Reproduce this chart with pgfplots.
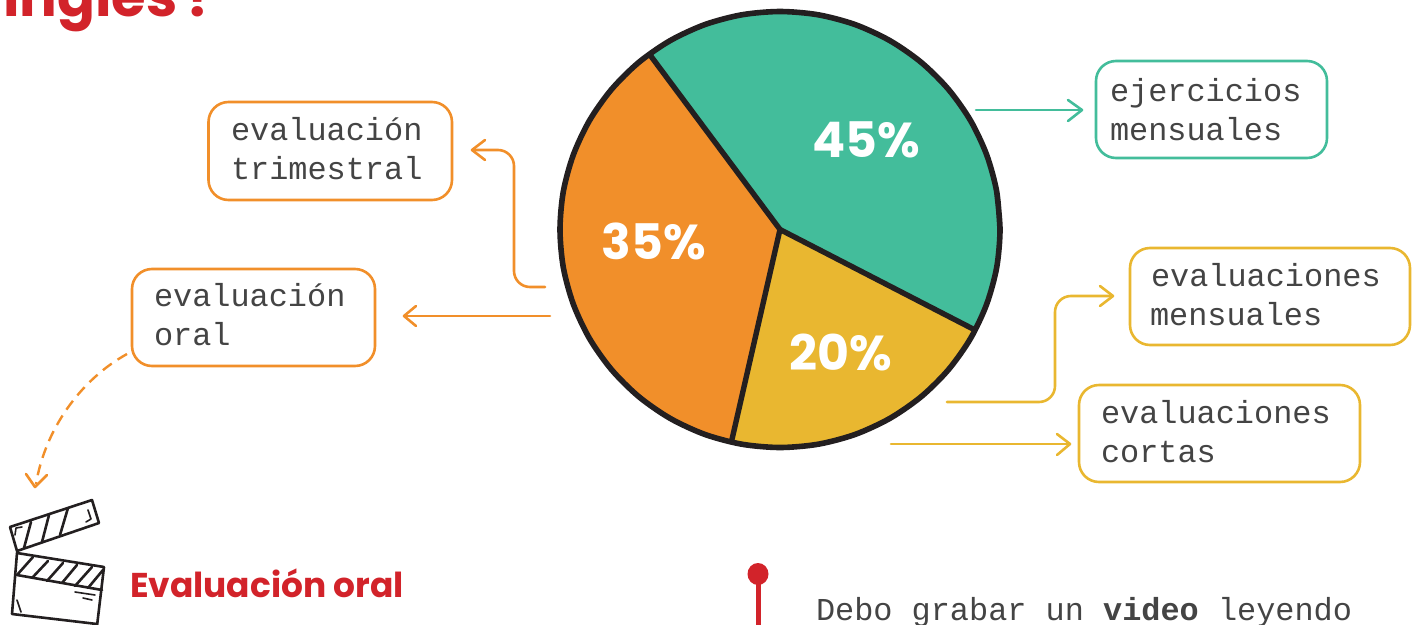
\documentclass[border=0pt]{standalone}
\usepackage{fontspec}
\usepackage{pgfplots}
\pgfplotsset{compat=1.18}
\setmainfont{Liberation Mono}
\newfontfamily\headfont{Poppins}[BoldFont={Poppins Bold}]
\definecolor{cgreen}{HTML}{43BD9B}
\definecolor{corange}{HTML}{F18F2A}
\definecolor{cyellow}{HTML}{E9B730}
\definecolor{cline}{HTML}{231F20}
\definecolor{cred}{HTML}{D2232A}
\definecolor{ctext}{HTML}{444444}
\newcommand{\boxtxt}[1]{\fontsize{31.9}{39}\selectfont\color{ctext}#1}
\newcommand{\pct}[1]{\headfont\bfseries\fontsize{49}{49}\selectfont\color{white}#1}
\begin{document}
\begin{tikzpicture}
\clip (0,0) rectangle (1414pt,624pt);
\begin{axis}[
  at={(0,0)}, anchor=south west,
  x=1pt, y=1pt, y dir=reverse,
  xmin=0, xmax=1414, ymin=0, ymax=624,
  hide axis, clip=false,
]
% slices
\addplot[fill=cgreen,draw=none] coordinates {
 (780,229.5) (975,330) (986.7,304.1) (996.7,267.4) (1000,229.5) (996.7,191.6) (986.7,154.9)
 (970.5,120.5) (948.5,89.4) (921.4,62.5) (890,40.7) (855.2,24.6) (818.2,14.8) (780,11.5)
 (741.8,14.8) (704.8,24.6) (670,40.7) (649.3,54)} --cycle;
\addplot[fill=cyellow,draw=none] coordinates {
 (780,229.5) (731.5,441.5) (741.8,444.2) (780,447.5) (818.2,444.2) (855.2,434.4) (890,418.3)
 (921.4,396.5) (948.5,369.6) (970.5,338.5) (975,330)} --cycle;
\addplot[fill=corange,draw=none] coordinates {
 (780,229.5) (649.3,54) (638.6,62.5) (611.5,89.4) (589.5,120.5) (573.3,154.9) (563.3,191.6)
 (560,229.5) (563.3,267.4) (573.3,304.1) (589.5,338.5) (611.5,369.6) (638.6,396.5) (670,418.3)
 (704.8,434.4) (731.5,441.5)} --cycle;
% rim
\addplot[smooth,draw=cline,line width=5.6pt] coordinates {
 (1000,229.5) (996.7,191.6) (986.7,154.9) (970.5,120.5) (948.5,89.4) (921.4,62.5) (890,40.7)
 (855.2,24.6) (818.2,14.8) (780,11.5) (741.8,14.8) (704.8,24.6) (670,40.7) (638.6,62.5)
 (611.5,89.4) (589.5,120.5) (573.3,154.9) (563.3,191.6) (560,229.5) (563.3,267.4) (573.3,304.1)
 (589.5,338.5) (611.5,369.6) (638.6,396.5) (670,418.3) (704.8,434.4) (741.8,444.2) (780,447.5)
 (818.2,444.2) (855.2,434.4) (890,418.3) (921.4,396.5) (948.5,369.6) (970.5,338.5) (986.7,304.1)
 (996.7,267.4) (1000,229.5) (996.7,191.6)};
% separators
\addplot[draw=cline,line width=5.4pt] coordinates {(649.3,54) (780,229.5)};
\addplot[draw=cline,line width=5.4pt] coordinates {(975,330) (780,229.5)};
\addplot[draw=cline,line width=5.4pt] coordinates {(731.5,441.5) (780,229.5)};
% percent labels
\node at (axis cs:866,140) {\pct{45\%}};
\node at (axis cs:654,241) {\pct{35\%}};
\node at (axis cs:841,352) {\pct{20\%}};
% boxes
\draw[corange,line width=2.6pt,rounded corners=20pt,fill=white] (axis cs:208.5,102) rectangle (axis cs:452,200);
\draw[corange,line width=2.6pt,rounded corners=20pt,fill=white] (axis cs:132,269) rectangle (axis cs:375,366);
\draw[cgreen,line width=2.6pt,rounded corners=20pt,fill=white] (axis cs:1096,61) rectangle (axis cs:1327,158);
\draw[cyellow,line width=2.6pt,rounded corners=20pt,fill=white] (axis cs:1130,248) rectangle (axis cs:1410,345);
\draw[cyellow,line width=2.6pt,rounded corners=20pt,fill=white] (axis cs:1079,385) rectangle (axis cs:1360,482);
% box text
\tikzset{bt/.style={anchor=base west,inner sep=0pt,outer sep=0pt}}
\node[bt] at (axis cs:231,140) {\boxtxt{evaluación}};
\node[bt] at (axis cs:231,179) {\boxtxt{trimestral}};
\node[bt] at (axis cs:154,306) {\boxtxt{evaluación}};
\node[bt] at (axis cs:154,345) {\boxtxt{oral}};
\node[bt] at (axis cs:1110,101) {\boxtxt{ejercicios}};
\node[bt] at (axis cs:1110,140) {\boxtxt{mensuales}};
\node[bt] at (axis cs:1151,286) {\boxtxt{evaluaciones}};
\node[bt] at (axis cs:1150,325) {\boxtxt{mensuales}};
\node[bt] at (axis cs:1101,423) {\boxtxt{evaluaciones}};
\node[bt] at (axis cs:1101,462) {\boxtxt{cortas}};
% arrows
\tikzset{ar/.style={line width=2.6pt,line cap=round,line join=round}}
\draw[ar,cgreen] (axis cs:976,110) -- (axis cs:1081,110);
\draw[ar,cgreen] (axis cs:1068,100) -- (axis cs:1082,110) -- (axis cs:1068,121);
\draw[ar,corange,rounded corners=16pt] (axis cs:545,287) -- (axis cs:514,287) -- (axis cs:514,150) -- (axis cs:473,150);
\draw[ar,corange] (axis cs:485,140) -- (axis cs:472,150) -- (axis cs:485,160);
\draw[ar,corange] (axis cs:550,316) -- (axis cs:405,316);
\draw[ar,corange] (axis cs:416,306) -- (axis cs:404,316) -- (axis cs:416,326);
\draw[ar,cyellow,rounded corners=16pt] (axis cs:947,402) -- (axis cs:1055,402) -- (axis cs:1055,296) -- (axis cs:1112,296);
\draw[ar,cyellow] (axis cs:1100,286) -- (axis cs:1113,296) -- (axis cs:1100,306);
\draw[ar,cyellow] (axis cs:891,444) -- (axis cs:1069,444);
\draw[ar,cyellow] (axis cs:1057,434) -- (axis cs:1070,444) -- (axis cs:1057,455);
\draw[corange,line width=2.4pt,dash pattern=on 11pt off 7pt] (axis cs:127,354) .. controls (axis cs:80,380) and (45,430) .. (axis cs:36,484);
\draw[ar,corange] (axis cs:26,474) -- (axis cs:35,487) -- (axis cs:47,475);
% clapperboard
\tikzset{cl/.style={cline,line width=2.6pt,line cap=round,line join=round}}
\draw[cl] (axis cs:10,527) -- (axis cs:92,500) -- (axis cs:99,523) -- (axis cs:17,551) -- cycle;
\draw[cl] (axis cs:31,522) -- (axis cs:24,548);
\draw[cl] (axis cs:49,515) -- (axis cs:42,542);
\draw[cl] (axis cs:68,508) -- (axis cs:60,535);
\draw[cl,line width=1.6pt] (axis cs:15,535) -- (axis cs:16,528) -- (axis cs:22,527);
\draw[cl,line width=1.6pt] (axis cs:86,522) -- (axis cs:91,519) -- (axis cs:88,510);
\draw[cl] (axis cs:17,553) -- (axis cs:104,567) -- (axis cs:97,626);
\draw[cl] (axis cs:17,553) -- (axis cs:12,614) -- (axis cs:97,624);
\draw[cl] (axis cs:17,575) -- (axis cs:102,590);
\draw[cl] (axis cs:17,575) -- (axis cs:33,557);
\draw[cl] (axis cs:32,578) -- (axis cs:48,561);
\draw[cl] (axis cs:47,581) -- (axis cs:63,563);
\draw[cl] (axis cs:62,583) -- (axis cs:77,565);
\draw[cl] (axis cs:75,586) -- (axis cs:92,567);
\draw[cl] (axis cs:88,588) -- (axis cs:103,570);
\draw[cl,line width=1.6pt] (axis cs:75,592) -- (axis cs:95,595);
\draw[cl,line width=1.6pt] (axis cs:83,598) -- (axis cs:92,600);
\draw[cl,line width=1.6pt] (axis cs:17,600) -- (axis cs:21,612);
% headings
\node[bt] at (axis cs:130,597) {\headfont\bfseries\fontsize{34.4}{34.4}\selectfont\color{cred}Evaluación oral};
\node[bt] at (axis cs:3,16) {\headfont\bfseries\fontsize{56}{56}\selectfont\color{cred}inglés\kern9pt?};
% red pin
\draw[cred,line width=5pt] (axis cs:758,574) -- (axis cs:758,630);
\fill[cred] (axis cs:758,574) ellipse [x radius=10.5pt, y radius=11pt];
\node[bt] at (axis cs:816,620) {\boxtxt{Debo grabar un \textbf{video} leyendo}};
\end{axis}
\end{tikzpicture}
\end{document}
